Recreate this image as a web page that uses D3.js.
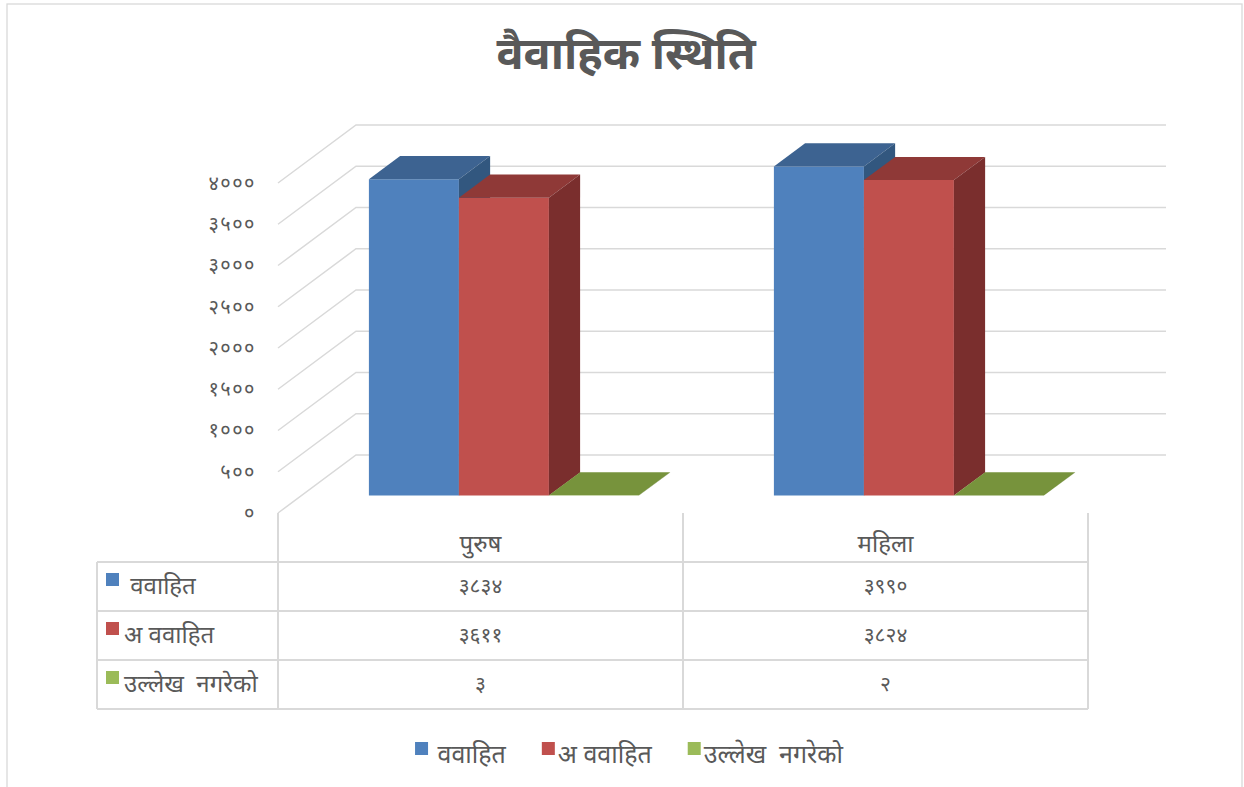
<!DOCTYPE html>
<html>
<head>
<meta charset="utf-8">
<script src="https://cdn.jsdelivr.net/npm/d3@7"></script>
<style>
html,body{margin:0;padding:0;background:#fff;}
svg{display:block;}
text{font-family:"Noto Sans Devanagari","Noto Sans","Lohit Devanagari",sans-serif;fill:#595959;white-space:pre;}
</style>
</head>
<body>
<svg id="chart" width="1244" height="787"></svg>
<script>
const title = 'वैवाहिक स्थिति';
const categories = ['पुरुष', 'महिला'];
const seriesNames = [' ववाहित', 'अ ववाहित', 'उल्लेख  नगरेको'];
const married = [3834, 3990];
const unmarried = [3611, 3824];
const notStated = [3, 2];
const yTicks = [0, 500, 1000, 1500, 2000, 2500, 3000, 3500, 4000];
const yTickLabels = ['०', '५००', '१०००', '१५००', '२०००', '२५००', '३०००', '३५००', '४०००'];

const seriesValues = [married, unmarried, notStated];
const colors = [
  {front:'#4F81BD', top:'#3D6391', side:'#32577F'},
  {front:'#C0504D', top:'#8F3937', side:'#7A2E2D'},
  {front:'#9BBB59', top:'#77933C', side:'#5F7830'}
];
const devaDigits = '०१२३४५६७८९';
const toDeva = n => String(n).replace(/[0-9]/g, d => devaDigits[+d]);

const svg = d3.select('#chart');
const gridColor = '#D9D9D9';

// outer border
svg.append('rect').attr('x', 7).attr('y', 4).attr('width', 1235).attr('height', 800)
  .attr('fill', 'none').attr('stroke', '#D9D9D9').attr('stroke-width', 1.3);

// title
svg.append('text').attr('x', 626).attr('y', 69).attr('text-anchor', 'middle')
  .style('font-size', '45px').style('font-weight', 'bold').text(title);

// scales
const DX = 78, DY = -58;
const y = d3.scaleLinear().domain([0, 4000]).range([513, 183]);
const x = d3.scaleBand().domain(categories).range([278, 1088]).paddingInner(0).paddingOuter(0);
const xs = d3.scaleBand().domain(d3.range(seriesNames.length)).range([0, x.bandwidth()]).paddingInner(0).paddingOuter(0.75);
const P = (px, v, d) => [px + DX * d, y(v) + DY * d];

// gridlines: side wall diagonals + back wall
const grid = svg.append('g').attr('stroke', gridColor).attr('stroke-width', 1.5).attr('fill', 'none');
yTicks.forEach(t => {
  const a = P(278, t, 0), b = P(278, t, 1), c = P(1088, t, 1);
  grid.append('polyline').attr('points', [a, b, c].map(p => p.join(',')).join(' '));
});

// y axis labels
const axis = d3.axisLeft(y).tickValues(yTicks).tickFormat((d, i) => yTickLabels[i]).tickSize(0).tickPadding(0);
const ag = svg.append('g').attr('transform', 'translate(256,0)').call(axis);
ag.select('.domain').remove();
ag.selectAll('text').style('font-size', '20px').attr('fill', '#595959')
  .style('font-family', '"Noto Sans Devanagari","Noto Sans",sans-serif').style('letter-spacing', '1.5px');

// bars
const d0 = 0.3, d1 = 0.7;
const barsG = svg.append('g');
categories.forEach((cat, ci) => {
  seriesValues.forEach((vals, si) => {
    const v = vals[ci];
    const x0 = x(cat) + xs(si), x1 = x0 + xs.bandwidth();
    const c = colors[si];
    const poly = pts => pts.map(p => p.join(',')).join(' ');
    barsG.append('polygon').attr('points', poly([P(x0,0,d0), P(x1,0,d0), P(x1,v,d0), P(x0,v,d0)])).attr('fill', c.front);
    barsG.append('polygon').attr('points', poly([P(x0,v,d0), P(x1,v,d0), P(x1,v,d1), P(x0,v,d1)])).attr('fill', c.top);
    barsG.append('polygon').attr('points', poly([P(x1,0,d0), P(x1,v,d0), P(x1,v,d1), P(x1,0,d1)])).attr('fill', c.side);
  });
});

// data table
const tbl = svg.append('g');
const rowTop = 562, rowH = 49, tblLeft = 97;
const tl = tbl.append('g').attr('stroke', '#D9D9D9').attr('stroke-width', 2);
for (let r = 0; r <= seriesNames.length; r++) {
  tl.append('line').attr('x1', tblLeft).attr('x2', 1088).attr('y1', rowTop + r * rowH).attr('y2', rowTop + r * rowH);
}
tl.append('line').attr('x1', tblLeft).attr('x2', tblLeft).attr('y1', rowTop).attr('y2', rowTop + 3 * rowH);
[278, 683, 1088].forEach(px => {
  tl.append('line').attr('x1', px).attr('x2', px).attr('y1', 513).attr('y2', rowTop + 3 * rowH);
});
categories.forEach(cat => {
  tbl.append('text').attr('x', x(cat) + x.bandwidth() / 2).attr('y', 552).attr('text-anchor', 'middle')
    .style('font-size', '24px').text(cat);
});
seriesNames.forEach((name, si) => {
  const ry = rowTop + si * rowH;
  tbl.append('rect').attr('x', 106).attr('y', ry + 11).attr('width', 13).attr('height', 13).attr('fill', colors[si].front);
  tbl.append('text').attr('x', 124).attr('y', ry + 32).style('font-size', '24px').text(name);
  categories.forEach((cat, ci) => {
    tbl.append('text').attr('x', x(cat) + x.bandwidth() / 2).attr('y', ry + 31).attr('text-anchor', 'middle')
      .style('font-size', '21px').text(toDeva(seriesValues[si][ci]));
  });
});

// legend
const lg = svg.append('g');
const legendGap = 36;
let cx = 0;
seriesNames.forEach((name, si) => {
  const g = lg.append('g');
  g.append('rect').attr('x', 0).attr('y', -21).attr('width', 13).attr('height', 13).attr('fill', colors[si].front);
  const t = g.append('text').attr('x', 16).attr('y', 0).style('font-size', '25px').text(name);
  const w = 16 + t.node().getComputedTextLength();
  g.attr('transform', `translate(${cx},0)`);
  cx += w + legendGap;
});
const totalW = cx - legendGap;
lg.attr('transform', `translate(${629 - totalW / 2},763)`);
</script>
</body>
</html>
